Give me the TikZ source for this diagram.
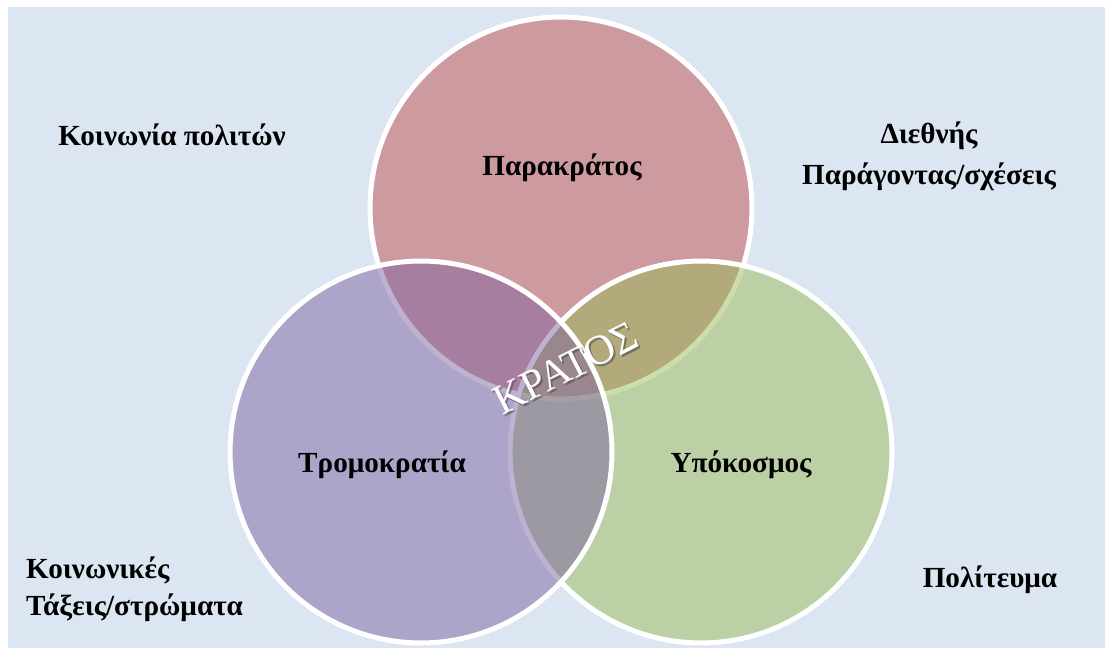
\documentclass[tikz,border=0pt]{standalone}
\usepackage{fontspec}
\setmainfont{Liberation Serif}
\usetikzlibrary{positioning}
\definecolor{bgblue}{HTML}{DCE6F2}
\definecolor{setred}{HTML}{C0504D}
\definecolor{setgreen}{HTML}{9BBB59}
\definecolor{setpurple}{HTML}{8064A2}

\begin{document}
\begin{tikzpicture}[x=0.02cm, y=-0.02cm,
    every node/.style={font=\bfseries\fontsize{16.6}{19}\selectfont, text=black},
    set/.style={
      circle, draw=white, line width=0.1cm,
      fill opacity=0.5, draw opacity=1,
      minimum size=7.64cm, inner sep=0pt
    },
    outer/.style={align=center},
    core/.style={font=\fontsize{24}{28}\selectfont, rotate=27}
  ]
  % page and background
  \fill[white] (0,0) rectangle (1105,648);
  \fill[bgblue] (8,7) rectangle (1105,648);
  \useasboundingbox (0,0) rectangle (1105,648);

  % the three sets
  \node[set, fill=setred] (para) at (561,208) {};
  \node[set, fill=setgreen] (under) at (701,452) {};
  \node[set, fill=setpurple] (terror) at (421,452) {};

  \node (paralbl) at (562,168) {Παρακράτος};
  \node (terrorlbl) at (382,465) {Τρομοκρατία};
  \node (underlbl) at (741,465) {Υπόκοσμος};

  % centre label with shadow
  \node[core, text=black!70, opacity=0.6] (coreshadow) at (568,370) {ΚΡΑΤΟΣ};
  \node[core, text=white] (corelbl) at (566,368) {ΚΡΑΤΟΣ};

  % surrounding factors
  \node[outer] (civil) at (172,135) {Κοινωνία πολιτών};
  \node[outer, font=\bfseries\fontsize{16.6}{23.2}\selectfont] (intl) at (929,156) {Διεθνής\\Παράγοντας/σχέσεις};
  \node[align=left, anchor=west, font=\bfseries\fontsize{16.6}{21}\selectfont] (classes) at (20,589) {Κοινωνικές\\Τάξεις/στρώματα};
  \node[outer] (regime) at (990,580) {Πολίτευμα};
\end{tikzpicture}
\end{document}
